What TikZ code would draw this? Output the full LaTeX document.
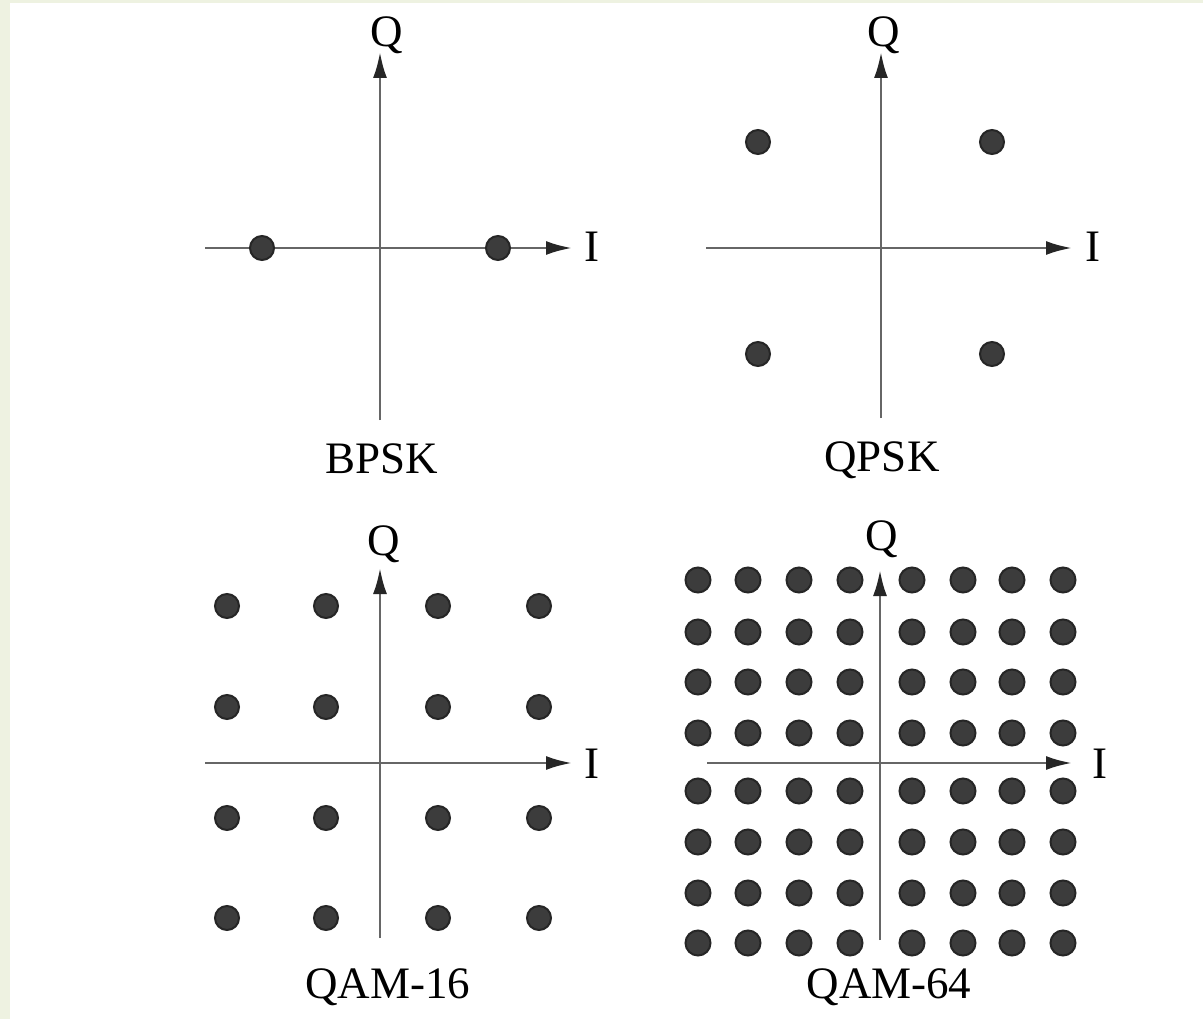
\documentclass[tikz,border=0pt]{standalone}
\usepackage{fontspec}
\setmainfont{Liberation Serif}
\usetikzlibrary{arrows.meta}
\definecolor{pagebg}{HTML}{EEF2E1}
\definecolor{axisgray}{HTML}{666666}
\definecolor{dotgray}{HTML}{3C3C3C}
\tikzset{
  axis/.style={draw=axisgray, line width=2.8pt, -{Latex[length=26pt,width=14pt,color=black!85]}},
  sym/.style={circle, inner sep=0pt, minimum size=24pt, fill=dotgray, draw=black!85, line width=2pt},
  lbl/.style={font=\fontsize{45}{50}\selectfont, inner sep=0pt, anchor=base},
}

\begin{document}
\begin{tikzpicture}[x=1pt, y=-1pt]
  % page
  \fill[pagebg] (0,0) rectangle (1203,1019);
  \fill[white] (10,3) rectangle (1203,1019);

  % BPSK
  \coordinate (bW) at (205,248); \coordinate (bE) at (572,248);
  \coordinate (bS) at (380,420); \coordinate (bN) at (380,52);
  \draw[axis] (bW) -- (bE);
  \draw[axis] (bS) -- (bN);
  \node[sym] (b0) at (262,248) {};
  \node[sym] (b1) at (498,248) {};
  \node[lbl] (bQ) at (387,47) {Q};
  \node[lbl] (bI) at (592,262) {I};
  \node[lbl] (bName) at (382,473) {BPSK};

  % QPSK
  \coordinate (qW) at (706,248); \coordinate (qE) at (1072,248);
  \coordinate (qS) at (881,418); \coordinate (qN) at (881,52);
  \draw[axis] (qW) -- (qE);
  \draw[axis] (qS) -- (qN);
  \foreach \x [count=\i] in {758,992}
    \foreach \y [count=\j] in {142,354}
      \node[sym] (q-\i-\j) at (\x,\y) {};
  \node[lbl] (qQ) at (884,47) {Q};
  \node[lbl] (qI) at (1093,262) {I};
  \node[lbl] (qName) at (882,471) {QPSK};

  % QAM-16
  \coordinate (sW) at (205,763); \coordinate (sE) at (572,763);
  \coordinate (sS) at (380,938); \coordinate (sN) at (380,568);
  \draw[axis] (sW) -- (sE);
  \draw[axis] (sS) -- (sN);
  \foreach \x [count=\i] in {227,326,438,539}
    \foreach \y [count=\j] in {606,707,818,918}
      \node[sym] (s-\i-\j) at (\x,\y) {};
  \node[lbl] (sQ) at (384,555) {Q};
  \node[lbl] (sI) at (592,778) {I};
  \node[lbl] (sName) at (388,998) {QAM-16};

  % QAM-64
  \coordinate (tW) at (707,763); \coordinate (tE) at (1072,763);
  \coordinate (tS) at (880,940); \coordinate (tN) at (880,570);
  \draw[axis] (tW) -- (tE);
  \draw[axis] (tS) -- (tN);
  \foreach \x [count=\i] in {698,748,799,850,912,963,1012,1063}
    \foreach \y [count=\j] in {580,632,682,733,791,842,893,943}
      \node[sym, minimum size=25pt] (t-\i-\j) at (\x,\y) {};
  \node[lbl] (tQ) at (882,550) {Q};
  \node[lbl] (tI) at (1100,778) {I};
  \node[lbl] (tName) at (889,998) {QAM-64};
\end{tikzpicture}
\end{document}
